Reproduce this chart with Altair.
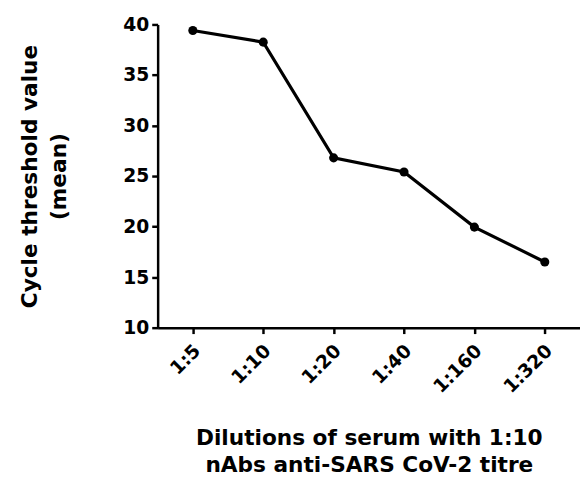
import altair as alt
import pandas as pd

dilutions = ["1:5", "1:10", "1:20", "1:40", "1:160", "1:320"]
ct_mean = [39.4, 38.25, 26.8, 25.4, 19.95, 16.5]

df = pd.DataFrame({"dilution": dilutions, "ct": ct_mean})

FONT = "DejaVu Sans"

x = alt.X("dilution:N", sort=dilutions,
          scale=alt.Scale(type="point", padding=0.5),
          axis=alt.Axis(title=["Dilutions of serum with 1:10", "nAbs anti-SARS CoV-2 titre"],
                        labelAngle=-45, labelAlign="right", labelBaseline="middle",
                        labelFont=FONT, labelFontSize=19, labelFontWeight="bold",
                        labelColor="black", labelPadding=14, labelOffset=4,
                        titleFont=FONT, titleFontSize=22, titleFontWeight="bold",
                        titleColor="black", titlePadding=32, titleLineHeight=27,
                        domainColor="black", domainWidth=2.5, tickColor="black",
                        tickWidth=2.5, tickSize=6))
y = alt.Y("ct:Q", scale=alt.Scale(domain=[10, 40], nice=False, zero=False),
          axis=alt.Axis(title=["Cycle threshold value", "(mean)"], values=[10, 15, 20, 25, 30, 35, 40],
                        grid=False, labelFont=FONT, labelFontSize=19,
                        labelFontWeight="bold", labelColor="black", labelPadding=3,
                        titleFont=FONT, titleFontSize=22, titleFontWeight="bold",
                        titleColor="black", titlePadding=53, titleLineHeight=30,
                        domainColor="black", domainWidth=2.5, tickColor="black",
                        tickWidth=2.5, tickSize=6))

line = alt.Chart(df).mark_line(color="black", strokeWidth=3.2).encode(x=x, y=y)
pts = alt.Chart(df).mark_point(filled=True, color="black", size=85, opacity=1).encode(x=x, y=y)

chart = (line + pts).properties(
    width=429, height=308,
    autosize=alt.AutoSizeParams(type="none"),
    padding={"left": 152, "top": 13, "right": 0, "bottom": 150},
    background="white",
).configure_view(stroke=None)

chart.save("out.html", embed_options={"renderer": "svg", "actions": False})
